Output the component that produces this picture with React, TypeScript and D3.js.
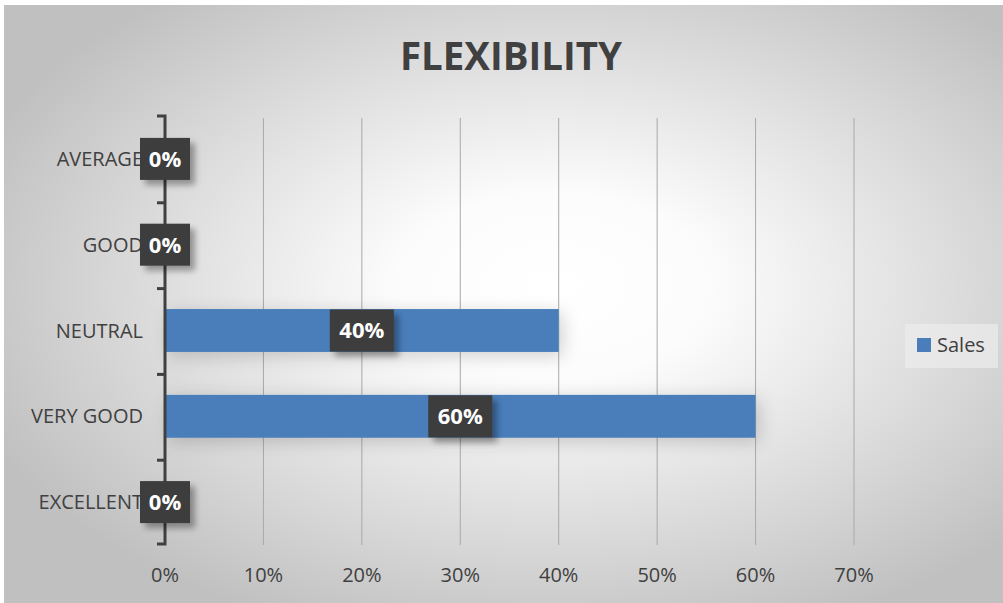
import React from "react";
import * as d3 from "d3";

const categories = ["AVERAGE", "GOOD", "NEUTRAL", "VERY GOOD", "EXCELLENT"];
const salesValues = [0, 0, 0.4, 0.6, 0];
const xTicks = [0, 0.1, 0.2, 0.3, 0.4, 0.5, 0.6, 0.7];
const seriesName = "Sales";
const chartTitle = "FLEXIBILITY";

const W = 1003;
const H = 603;
const FONT = "'Open Sans', 'DejaVu Sans', sans-serif";

export default function App() {
  const x = d3.scaleLinear().domain([0, 0.7]).range([165, 854]);
  const y = d3.scaleBand().domain(categories).range([116, 545]).paddingInner(0.5).paddingOuter(0.25);
  const step = y.step();
  const fmt = d3.format(".0%");
  const boundaries = d3.range(categories.length + 1).map((i) => 117 + i * step);

  return (
    <svg
      width={W}
      height={H}
      style={{ position: "absolute", left: 0, top: 0, display: "block" }}
      fontFamily={FONT}
    >
      <defs>
        <radialGradient id="bg" cx="0.55" cy="0.47" r="0.62">
          <stop offset="0" stopColor="#ffffff" />
          <stop offset="0.25" stopColor="#fcfcfc" />
          <stop offset="1" stopColor="#c0c0c0" />
        </radialGradient>
        <filter id="barShadow" x="-20%" y="-80%" width="140%" height="260%">
          <feGaussianBlur in="SourceAlpha" stdDeviation="9" />
          <feOffset dx="4" dy="4" result="b" />
          <feComponentTransfer>
            <feFuncA type="linear" slope="0.18" />
          </feComponentTransfer>
          <feMerge>
            <feMergeNode />
            <feMergeNode in="SourceGraphic" />
          </feMerge>
        </filter>
        <filter id="boxShadow" x="-40%" y="-40%" width="180%" height="180%">
          <feGaussianBlur in="SourceAlpha" stdDeviation="3" />
          <feOffset dx="5" dy="5" />
          <feComponentTransfer>
            <feFuncA type="linear" slope="0.35" />
          </feComponentTransfer>
          <feMerge>
            <feMergeNode />
            <feMergeNode in="SourceGraphic" />
          </feMerge>
        </filter>
      </defs>
      <rect x={0} y={0} width={W} height={H} fill="#ffffff" />
      <rect x={4} y={5} width={W - 4} height={H - 5} fill="url(#bg)" />

      <text
        x={511}
        y={70}
        textAnchor="middle"
        fontSize={40}
        fontWeight="bold"
        fill="#404040"
        textLength={222}
        lengthAdjust="spacingAndGlyphs"
      >
        {chartTitle}
      </text>

      {/* gridlines */}
      {xTicks.slice(1).map((t) => (
        <line key={t} x1={x(t)} x2={x(t)} y1={118} y2={545} stroke="#a9a9a9" strokeWidth={1} />
      ))}

      {/* bars */}
      {categories.map((c, i) =>
        salesValues[i] > 0 ? (
          <rect
            key={c}
            x={x(0)}
            y={y(c)!}
            width={x(salesValues[i]) - x(0)}
            height={y.bandwidth()}
            fill="#4a7ebb"
            filter="url(#barShadow)"
          />
        ) : null
      )}

      {/* y axis */}
      <path
        d={`M157,116 L165,116 L165,544 L157,544`}
        fill="none"
        stroke="#404040"
        strokeWidth={3}
      />
      {boundaries.slice(1, -1).map((b) => (
        <line key={b} x1={157} x2={165} y1={b} y2={b} stroke="#404040" strokeWidth={3} />
      ))}

      {/* category labels */}
      {categories.map((c) => (
        <text
          key={c}
          x={143}
          y={y(c)! + y.bandwidth() / 2}
          dy="0.35em"
          textAnchor="end"
          fontSize={20}
          fill="#404040"
        >
          {c}
        </text>
      ))}

      {/* x tick labels */}
      {xTicks.map((t) => (
        <text key={t} x={x(t)} y={582} textAnchor="middle" fontSize={20} fill="#404040">
          {fmt(t)}
        </text>
      ))}

      {/* data labels */}
      {categories.map((c, i) => {
        const v = salesValues[i];
        const label = fmt(v);
        const cx = (x(0) + x(v)) / 2;
        const cy = y(c)! + y.bandwidth() / 2;
        const bw = 22 + 14 * label.length;
        const bh = 42;
        return (
          <g key={c}>
            <rect
              x={cx - bw / 2}
              y={cy - bh / 2}
              width={bw}
              height={bh}
              fill="#3c3c3c"
              filter="url(#boxShadow)"
            />
            <text
              x={cx}
              y={cy}
              dy="0.36em"
              textAnchor="middle"
              fontSize={22}
              fontWeight="bold"
              fill="#ffffff"
            >
              {label}
            </text>
          </g>
        );
      })}

      {/* legend */}
      <rect x={905} y={324} width={93} height={44} fill="#ececec" opacity={0.7} />
      <rect x={917} y={338} width={14} height={14} fill="#4a7ebb" />
      <text x={937} y={345} dy="0.35em" fontSize={20} fill="#404040">
        {seriesName}
      </text>
    </svg>
  );
}
